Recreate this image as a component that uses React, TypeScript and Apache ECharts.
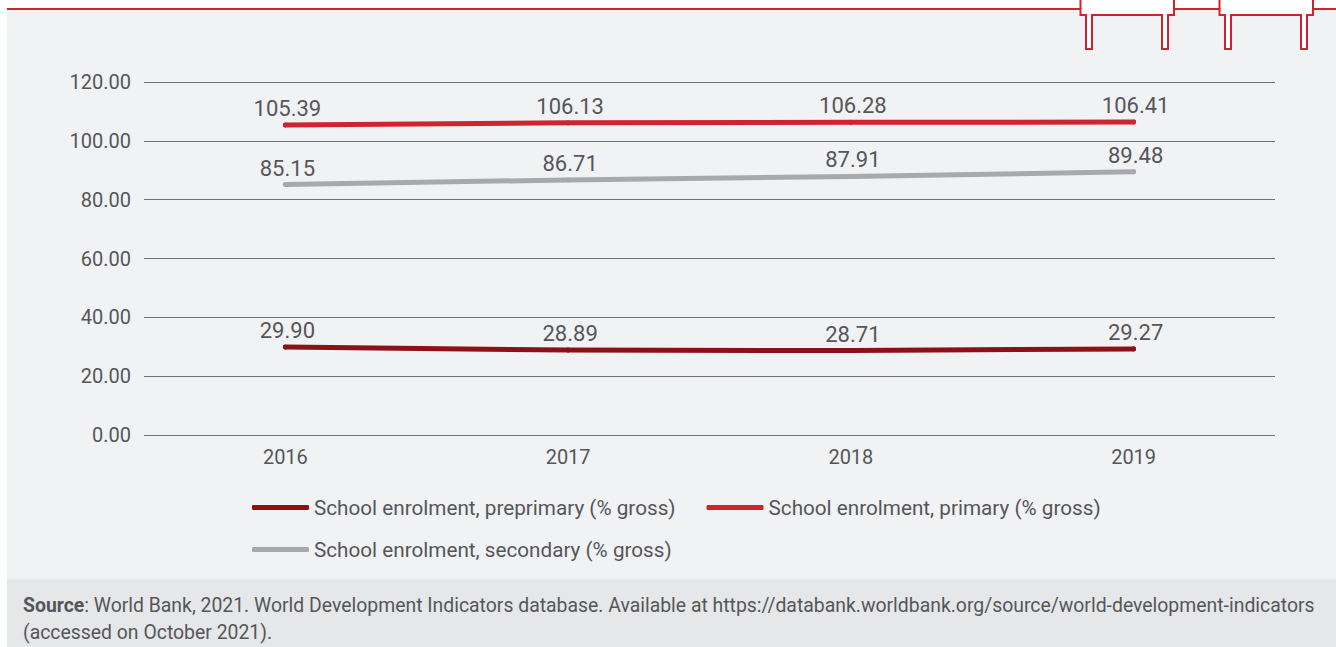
import React, { useEffect, useRef } from "react";
import * as echarts from "echarts";

const years = ["2016", "2017", "2018", "2019"];
const preprimary = [29.9, 28.89, 28.71, 29.27];
const primary = [105.39, 106.13, 106.28, 106.41];
const secondary = [85.15, 86.71, 87.91, 89.48];
const seriesNames = [
  "School enrolment, preprimary (% gross)",
  "School enrolment, primary (% gross)",
  "School enrolment, secondary (% gross)",
];
const sourceLine1 =
  ": World Bank, 2021. World Development Indicators database. Available at https://databank.worldbank.org/source/world-development-indicators";
const sourceLine2 = "(accessed on October 2021).";

const FONT = "Roboto";
const TEXT = "#555659";
const RED = "#d1232f";

export default function App() {
  const ref = useRef<HTMLDivElement>(null);
  useEffect(() => {
    document.body.style.margin = "0";
    document.body.style.background = "#ffffff";
    const chart = echarts.init(ref.current!, null, { renderer: "svg" });
    const topPts: number[][] = [
      [7, 9], [1080.5, 9], [1080.5, 15], [1086, 15], [1086, 49], [1092, 49], [1092, 15],
      [1162, 15], [1162, 49], [1168, 49], [1168, 15], [1174, 15], [1174, 9],
      [1219.5, 9], [1219.5, 15], [1225, 15], [1225, 49], [1231, 49], [1231, 15],
      [1301, 15], [1301, 49], [1307, 49], [1307, 15], [1313, 15], [1313, 9], [1336, 9],
    ];
    const mkSeries = (name: string, data: number[], color: string) => ({
      name,
      type: "line",
      data,
      symbol: "circle",
      symbolSize: 5,
      showSymbol: true,
      itemStyle: { color },
      lineStyle: { color, width: 5, cap: "round", join: "round" },
      label: {
        show: true,
        position: "top",
        distance: 3,
        offset: [2, 0],
        color: TEXT,
        fontFamily: FONT,
        fontSize: 22,
        formatter: (p: any) => Number(p.value).toFixed(2),
      },
      emphasis: { disabled: true },
    });
    const legendCommon = {
      left: 247,
      itemWidth: 57,
      itemHeight: 5,
      itemGap: 31,
      icon: "roundRect",
      textStyle: { color: TEXT, fontFamily: FONT, fontSize: 20.7 },
      selectedMode: false,
    };
    chart.setOption({
      animation: false,
      backgroundColor: "#ffffff",
      graphic: [
        { type: "rect", z: -10, shape: { x: 7, y: 9, width: 1329, height: 570 }, style: { fill: "#f1f2f4" }, silent: true },
        { type: "rect", z: -10, shape: { x: 7, y: 579, width: 1329, height: 68 }, style: { fill: "#e6e7e9" }, silent: true },
        {
          type: "polygon", z: -5,
          shape: { points: [...topPts, [1336, 0], [7, 0]] },
          style: { fill: "#ffffff" }, silent: true,
        },
        {
          type: "polyline", z: 10,
          shape: { points: topPts },
          style: { stroke: RED, lineWidth: 2, fill: "none" }, silent: true,
        },
        ...[1080.5, 1174, 1219.5, 1313].map((x) => ({
          type: "line", z: 10,
          shape: { x1: x, y1: 0, x2: x, y2: 9 },
          style: { stroke: RED, lineWidth: 2 }, silent: true,
        })),
        {
          type: "text", z: 10,
          left: 23, top: 592,
          style: {
            text: "{b|Source}" + sourceLine1 + "\n" + sourceLine2,
            fill: TEXT,
            font: `19.4px ${FONT}`,
            lineHeight: 27,
            rich: {
              b: { fontWeight: "bold", fontSize: 19.4, fontFamily: FONT, fill: TEXT, lineHeight: 27 },
            },
          },
          silent: true,
        },
      ],
      grid: { left: 144, right: 61, top: 82, bottom: 212, containLabel: false },
      legend: [
        { ...legendCommon, top: 492, data: [seriesNames[0], seriesNames[1]] },
        { ...legendCommon, top: 534, data: [seriesNames[2]] },
      ],
      xAxis: {
        type: "category",
        data: years,
        boundaryGap: true,
        axisLine: { show: false },
        axisTick: { show: false },
        axisLabel: { color: TEXT, fontFamily: FONT, fontSize: 20, margin: 12 },
      },
      yAxis: {
        type: "value",
        min: 0,
        max: 120,
        interval: 20,
        axisLine: { show: false },
        axisTick: { show: false },
        splitLine: { lineStyle: { color: "#707173", width: 1 } },
        axisLabel: {
          color: TEXT,
          fontFamily: FONT,
          fontSize: 20,
          margin: 13,
          formatter: (v: number) => v.toFixed(2),
        },
      },
      series: [
        mkSeries(seriesNames[0], preprimary, "#8c1018"),
        mkSeries(seriesNames[1], primary, "#cf2330"),
        mkSeries(seriesNames[2], secondary, "#a8a9ac"),
      ],
    });
    return () => chart.dispose();
  }, []);
  return <div ref={ref} style={{ width: 1336, height: 647 }} />;
}
